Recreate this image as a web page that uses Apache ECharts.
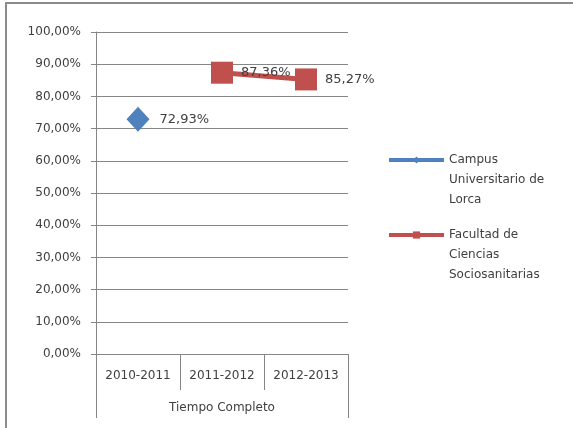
<!DOCTYPE html>
<html>
<head>
<meta charset="utf-8">
<script src="https://cdn.jsdelivr.net/npm/echarts@6/dist/echarts.min.js"></script>
<style>
  html, body { margin: 0; padding: 0; background: #fff; }
  #main { width: 573px; height: 428px; }
</style>
</head>
<body>
<div id="main"></div>
<script>
// datos del grafico
var cursos = ['2010-2011', '2011-2012', '2012-2013'];
var grupo = ['Tiempo Completo'];
var campusLorca = [72.93, '-', '-'];
var facultadSocio = ['-', 87.36, 85.27];
var nombreCampus = 'Campus Universitario de Lorca';
var nombreFacultad = 'Facultad de Ciencias Sociosanitarias';

var fuente = 'DejaVu Sans';
var gris = '#868686';

function pct(v) {
    return v.toFixed(2).replace('.', ',') + '%';
}

var myChart = echarts.init(document.getElementById('main'));

var leyendaTexto = {
    fontFamily: fuente,
    fontSize: 12,
    color: '#404040',
    lineHeight: 20
};

var option = {
    animation: false,
    textStyle: { fontFamily: fuente },
    graphic: [{
        type: 'rect',
        shape: { x: 6, y: 3, width: 600, height: 460 },
        style: { fill: 'none', stroke: '#8c8c8c', lineWidth: 2 },
        silent: true
    }],
    grid: { left: 96, right: 225, top: 32, bottom: 74 },
    legend: [{
        data: [nombreCampus],
        left: 387, top: 110, padding: 0,
        itemWidth: 55, itemHeight: 9,
        lineStyle: { width: 4 },
        textStyle: leyendaTexto,
        // lineas en blanco para que el icono quede en la primera linea
        formatter: function () { return '\n\nCampus\nUniversitario de\nLorca'; }
    }, {
        data: [nombreFacultad],
        left: 387, top: 185, padding: 0,
        itemWidth: 55, itemHeight: 9,
        lineStyle: { width: 4 },
        textStyle: leyendaTexto,
        formatter: function () { return '\n\nFacultad de\nCiencias\nSociosanitarias'; }
    }],
    xAxis: [{
        type: 'category',
        data: cursos,
        boundaryGap: true,
        axisLine: { lineStyle: { color: gris } },
        axisTick: { show: true, interval: 0, length: 36, lineStyle: { color: gris } },
        axisLabel: { color: '#404040', fontSize: 12, margin: 16, interval: 0 }
    }, {
        type: 'category',
        data: grupo,
        position: 'bottom',
        offset: 36,
        boundaryGap: true,
        axisLine: { show: false },
        axisTick: { show: true, length: 28, lineStyle: { color: gris } },
        axisLabel: { color: '#404040', fontSize: 12, margin: 12 }
    }],
    yAxis: {
        type: 'value',
        min: 0, max: 100, interval: 10,
        axisLine: { show: true, lineStyle: { color: gris } },
        axisTick: { show: true, length: 5, lineStyle: { color: gris } },
        axisLabel: {
            color: '#404040', fontSize: 12, margin: 15,
            formatter: function (v) { return pct(v); }
        },
        splitLine: { lineStyle: { color: gris } }
    },
    series: [{
        name: nombreCampus,
        type: 'line',
        data: campusLorca,
        symbol: 'diamond',
        symbolSize: [23, 25],
        itemStyle: { color: '#4f81bd' },
        lineStyle: { width: 4, color: '#4f81bd' },
        label: {
            show: true, position: 'right', distance: 10,
            color: '#404040', fontSize: 13,
            formatter: function (p) { return pct(p.value); }
        }
    }, {
        name: nombreFacultad,
        type: 'line',
        data: facultadSocio,
        symbol: 'rect',
        symbolSize: 22,
        itemStyle: { color: '#c0504d' },
        lineStyle: { width: 5, color: '#c0504d' },
        label: {
            show: true, position: 'right', distance: 8,
            color: '#404040', fontSize: 13,
            formatter: function (p) { return pct(p.value); }
        }
    }]
};

myChart.setOption(option);
</script>
</body>
</html>
